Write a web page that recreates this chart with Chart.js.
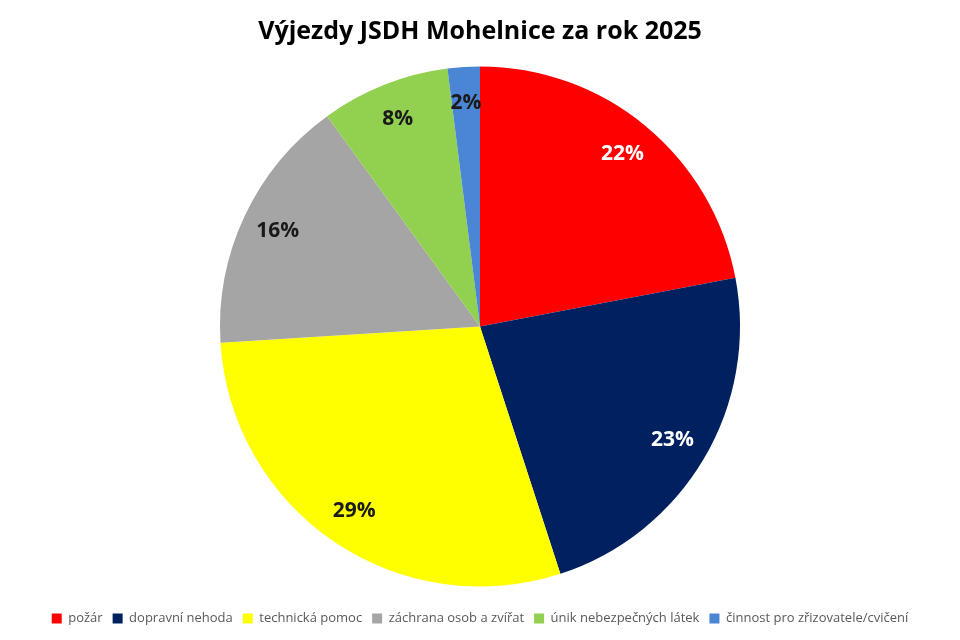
<!DOCTYPE html>
<html lang="cs">
<head>
  <meta charset="UTF-8">
  <title>Výjezdy JSDH Mohelnice</title>
  <style>
    body {
      margin: 0;
      padding: 0;
      background-color: #ffffff;
    }
    #obal {
      width: 960px;
      height: 640px;
      position: relative;
    }
  </style>
</head>
<body>
  <div id="obal">
    <canvas id="graf"></canvas>
  </div>

  <script src="https://cdn.jsdelivr.net/npm/chart.js"></script>
  <script>
    const kategorie = ['požár', 'dopravní nehoda', 'technická pomoc', 'záchrana osob a zvířat', 'únik nebezpečných látek', 'činnost pro zřizovatele/cvičení'];
    const podil = [22, 23, 29, 16, 8, 2];
    const barvy = ['#ff0000', '#002060', '#ffff00', '#a5a5a5', '#92d050', '#4a86d4'];
    const barvyPopisku = ['#ffffff', '#ffffff', '#1a1a1a', '#1a1a1a', '#1a1a1a', '#1a1a1a'];

    // popisky procent uvnitr vysecí
    const popisky = {
      id: 'popisky',
      afterDatasetsDraw(chart) {
        const ctx = chart.ctx;
        const meta = chart.getDatasetMeta(0);
        ctx.save();
        ctx.font = 'bold 21px "Open Sans", sans-serif';
        ctx.textAlign = 'center';
        ctx.textBaseline = 'middle';
        meta.data.forEach((arc, i) => {
          const p = arc.getProps(['x', 'y', 'startAngle', 'endAngle', 'outerRadius'], true);
          const uhel = (p.startAngle + p.endAngle) / 2;
          const r = p.outerRadius * 0.86;
          ctx.fillStyle = barvyPopisku[i];
          ctx.fillText(podil[i] + '%', p.x + Math.cos(uhel) * r, p.y + Math.sin(uhel) * r);
        });
        ctx.restore();
      }
    };

    new Chart(document.getElementById('graf'), {
      type: 'pie',
      data: {
        labels: kategorie,
        datasets: [{
          data: podil,
          backgroundColor: barvy,
          borderWidth: 0,
          radius: 260
        }]
      },
      options: {
        responsive: true,
        maintainAspectRatio: false,
        animation: false,
        layout: { padding: { top: 0, bottom: 5 } },
        plugins: {
          title: {
            display: true,
            text: 'Výjezdy JSDH Mohelnice za rok 2025',
            color: '#000000',
            font: { family: '"Open Sans", sans-serif', size: 25, weight: 'bold' },
            padding: { top: 17, bottom: 4 }
          },
          legend: {
            position: 'bottom',
            labels: {
              color: '#595959',
              font: { family: '"Open Sans", sans-serif', size: 13 },
              boxWidth: 10,
              boxHeight: 10,
              padding: 10
            }
          },
          tooltip: { enabled: false }
        }
      },
      plugins: [popisky]
    });
  </script>
</body>
</html>
